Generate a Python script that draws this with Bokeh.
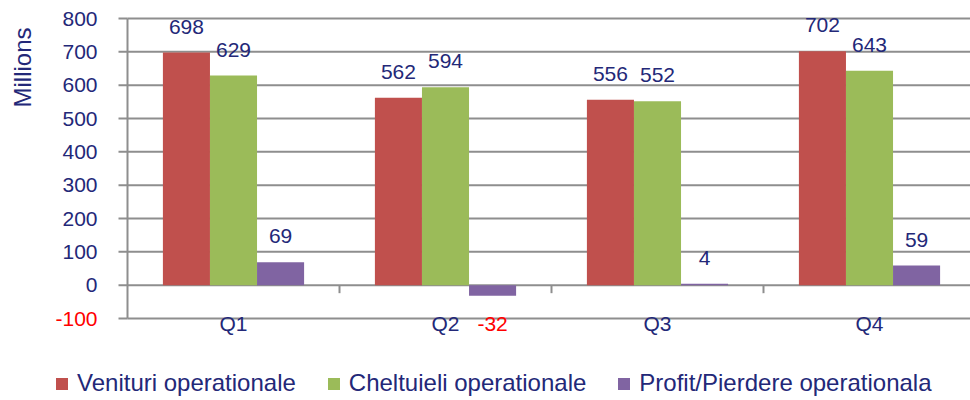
import math
from bokeh.plotting import figure
from bokeh.models import ColumnDataSource, Range1d, Label, Legend, LegendItem
from bokeh.core.properties import value
from bokeh.embed import file_html
from bokeh.resources import INLINE

# ---- data ----
categories = ["Q1", "Q2", "Q3", "Q4"]
venituri = [698, 562, 556, 702]
cheltuieli = [629, 594, 552, 643]
profit = [69, -32, 4, 59]
series_names = ["Venituri operationale", "Cheltuieli operationale",
                "Profit/Pierdere operationala"]
y_ticks = [-100, 0, 100, 200, 300, 400, 500, 600, 700, 800]
y_axis_title = "Millions"

# ---- styles / layout ----
NAVY = "#232878"
RED = "#ff0000"
GRAY = "#8e8e8e"
COLORS = ["#c0504d", "#9bbb59", "#8064a2"]
FONT = "Liberation Sans"
W, H = 970, 400
PLOT_LEFT = 127          # px where the value axis sits
CAT_PX = 212             # px per category
PX_PER_UNIT_Y = 1 / 3.0  # px per value unit
TOP_PX = 18              # px of the top tick
BAR_W = 0.222
OFFSETS = [-BAR_W, 0.0, BAR_W]

ymax = y_ticks[-1] + TOP_PX / PX_PER_UNIT_Y
ymin = ymax - H / PX_PER_UNIT_Y
xmin = -PLOT_LEFT / CAT_PX
xmax = xmin + W / CAT_PX

p = figure(x_range=Range1d(xmin, xmax), y_range=Range1d(ymin, ymax),
           width=W, height=H, output_backend="svg", toolbar_location=None,
           x_axis_location=None, y_axis_location=None,
           min_border_left=0, min_border_right=0, min_border_top=0,
           min_border_bottom=0)
p.outline_line_color = None
p.grid.visible = False

ncat = len(categories)
xc = [i + 0.5 for i in range(ncat)]

# gridlines
p.segment(x0=[0] * len(y_ticks), y0=y_ticks, x1=[ncat] * len(y_ticks), y1=y_ticks,
          line_color=GRAY, line_width=2)
# value axis line and ticks
p.segment(x0=[0], y0=[y_ticks[0]], x1=[0], y1=[y_ticks[-1]], line_color=GRAY,
          line_width=2)
tick_len = 9 / CAT_PX
p.segment(x0=[-tick_len] * len(y_ticks), y0=y_ticks, x1=[0] * len(y_ticks),
          y1=y_ticks, line_color=GRAY, line_width=2)
# value axis labels
ysrc = ColumnDataSource(dict(y=y_ticks, t=[str(v) for v in y_ticks],
                             c=[RED if v < 0 else NAVY for v in y_ticks],
                             x=[0] * len(y_ticks)))
p.text(x="x", y="y", text="t", text_color="c", x_offset=-30, text_align="right",
       text_baseline="middle", text_font=value(FONT), text_font_size=value("21px"),
       source=ysrc)
# category boundary ticks on the zero line
bounds = list(range(1, ncat))
blen = 8 / PX_PER_UNIT_Y
p.segment(x0=bounds, y0=[0] * len(bounds), x1=bounds, y1=[-blen] * len(bounds),
          line_color=GRAY, line_width=2)

# bars + value labels
series = [venituri, cheltuieli, profit]
renderers = []
for i, s in enumerate(series):
    src = ColumnDataSource(dict(
        x=[c + OFFSETS[i] for c in xc], v=s, t=[str(v) for v in s],
        o=[-26 if v >= 0 else 28 for v in s],
        c=[NAVY if v >= 0 else RED for v in s]))
    r = p.vbar(x="x", top="v", bottom=0, width=BAR_W, fill_color=COLORS[i],
               line_color=None, source=src)
    renderers.append(r)
    p.text(x="x", y="v", text="t", y_offset="o", text_color="c",
           text_align="center", text_baseline="alphabetic", text_font=value(FONT),
           text_font_size=value("21px"), source=src)

# category labels
csrc = ColumnDataSource(dict(x=xc, t=categories, y=[y_ticks[0]] * ncat))
p.text(x="x", y="y", text="t", y_offset=5, text_align="center",
       text_baseline="alphabetic", text_color=NAVY, text_font=value(FONT),
       text_font_size=value("21px"), source=csrc)

# y-axis title
p.add_layout(Label(x=22, y=H - 67, x_units="screen", y_units="screen",
                   text=y_axis_title, angle=math.pi / 2, text_align="center",
                   text_baseline="middle", text_color=NAVY, text_font=FONT,
                   text_font_size="24px"))

legend = Legend(items=[LegendItem(label=series_names[i], renderers=[renderers[i]])
                       for i in range(3)],
                location=(54, 3), orientation="horizontal", padding=0, margin=0,
                glyph_width=15, glyph_height=15, label_standoff=8, spacing=30,
                label_text_font=FONT, label_text_font_size="24px",
                label_text_color=NAVY, border_line_color=None,
                background_fill_alpha=0)
p.add_layout(legend, "center")

open("out.html", "w").write(file_html(p, INLINE))
